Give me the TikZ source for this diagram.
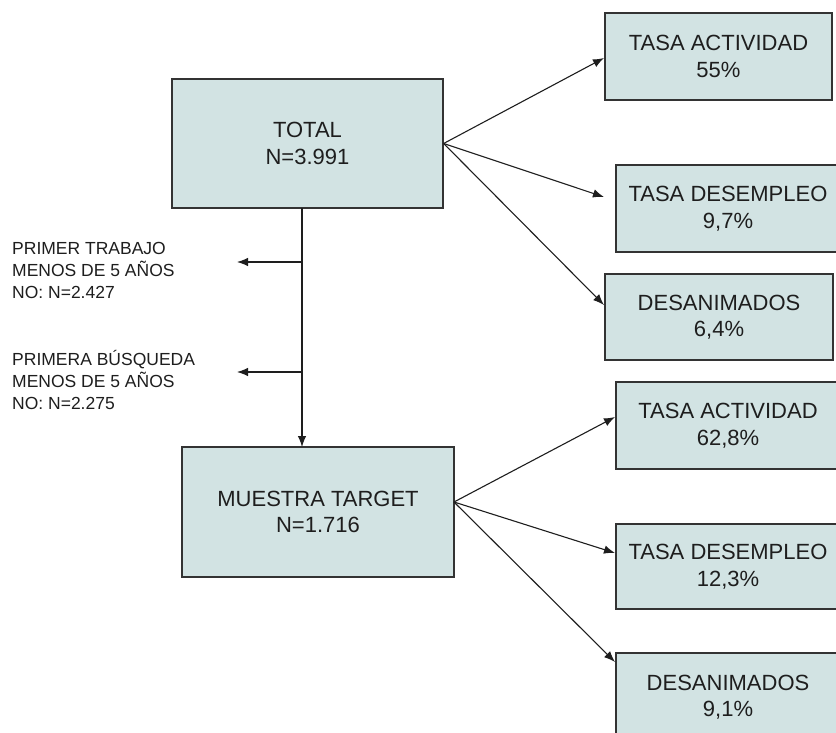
\documentclass[tikz,border=0pt]{standalone}
\usepackage{fontspec}
\setmainfont{Liberation Sans}
\usetikzlibrary{arrows.meta}
\definecolor{boxfill}{HTML}{D2E3E3}
\definecolor{boxline}{HTML}{333333}
\definecolor{inkc}{HTML}{1E1E1E}
\tikzset{
  databox/.style={draw=boxline, line width=1.3pt, fill=boxfill, inner sep=0pt,
    align=center, text=inkc, font=\fontsize{22}{26.5}\selectfont},
  sidelabel/.style={anchor=west, align=left, inner sep=0pt, text=inkc,
    font=\fontsize{17.5}{22}\selectfont},
  conn/.style={draw=inkc, line width=1.1pt, -{Latex[length=11pt,width=8.5pt]}},
  plainconn/.style={draw=inkc, line width=1.1pt}
}
\begin{document}
\begin{tikzpicture}[x=1pt,y=-1pt]
\useasboundingbox[fill=white] (0,0) rectangle (836,732);
% main boxes
\node[databox, minimum width=271pt, minimum height=129pt] (total) at (307.5,143.5) {TOTAL\\N=3.991};
\node[databox, minimum width=272pt, minimum height=130pt] (muestra) at (318,512) {MUESTRA TARGET\\N=1.716};
% right boxes
\node[databox, minimum width=227pt, minimum height=87pt] (act1) at (718.5,56.5) {TASA ACTIVIDAD\\55\%};
\node[databox, minimum width=224pt, minimum height=87pt] (des1) at (728,208.5) {TASA DESEMPLEO\\9,7\%};
\node[databox, minimum width=228pt, minimum height=86pt] (dan1) at (719,317) {DESANIMADOS\\6,4\%};
\node[databox, minimum width=224pt, minimum height=87pt] (act2) at (728,425.5) {TASA ACTIVIDAD\\62,8\%};
\node[databox, minimum width=224pt, minimum height=85pt] (des2) at (728,566.5) {TASA DESEMPLEO\\12,3\%};
\node[databox, minimum width=224pt, minimum height=88pt] (dan2) at (728,697) {DESANIMADOS\\9,1\%};
% side labels
\node[sidelabel] (lab1) at (12,270) {PRIMER TRABAJO\\MENOS DE 5 AÑOS\\NO: N=2.427};
\node[sidelabel] (lab2) at (12,380) {PRIMERA BÚSQUEDA\\MENOS DE 5 AÑOS\\NO: N=2.275};
% coordinates
\coordinate (tsrc) at (total.east);
\coordinate (msrc) at (454,502);
\coordinate (ta1) at (604,58);
\coordinate (ta2) at (604,197);
\coordinate (ta3) at (604,305);
\coordinate (ma1) at (615,417);
\coordinate (ma2) at (615,553);
\coordinate (ma3) at (615,662);
\coordinate (vtop) at (302,208);
\coordinate (vbot) at (302,447);
\coordinate (b1) at (302,262);
\coordinate (b2) at (302,372);
\coordinate (e1) at (237,262);
\coordinate (e2) at (237,372);
% connectors
\draw[conn] (tsrc) -- (ta1);
\draw[conn] (tsrc) -- (ta2);
\draw[conn] (tsrc) -- (ta3);
\draw[conn] (msrc) -- (ma1);
\draw[conn] (msrc) -- (ma2);
\draw[conn] (msrc) -- (ma3);
\draw[conn] (vtop) -- (vbot);
\draw[conn] (b1) -- (e1);
\draw[conn] (b2) -- (e2);
\end{tikzpicture}
\end{document}
